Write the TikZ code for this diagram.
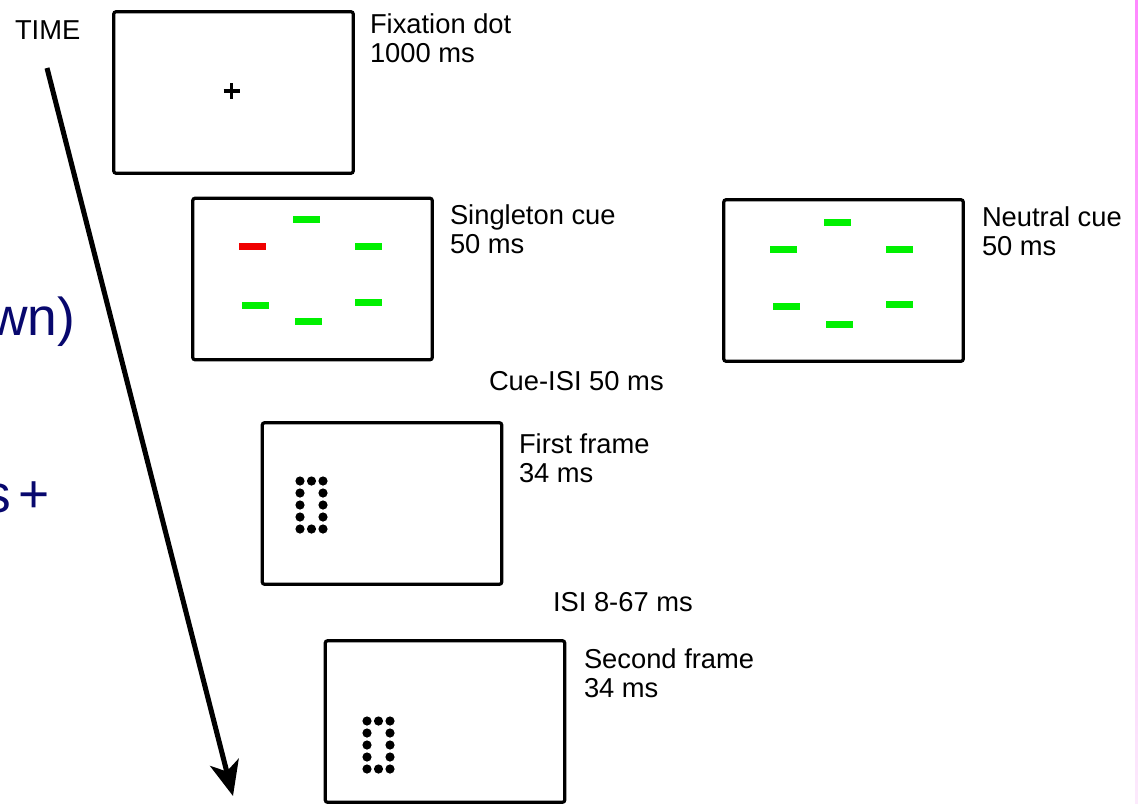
\documentclass[tikz,border=0pt]{standalone}
\usepackage{fontspec}
\setmainfont{Liberation Sans}
\usetikzlibrary{arrows.meta}

\definecolor{cuegreen}{RGB}{0,240,0}
\definecolor{cuered}{RGB}{240,0,0}
\definecolor{slidenavy}{RGB}{8,8,110}
\definecolor{pinktop}{RGB}{255,136,255}
\definecolor{pinkbot}{RGB}{252,234,252}

\begin{document}
\begin{tikzpicture}[x=0.75pt,y=-0.75pt,
  screen/.style={draw=black, line width=2.4pt, rounded corners=1.5pt,
    minimum width=179.5pt, minimum height=121pt, inner sep=0pt, outer sep=0pt},
  lbl/.style={anchor=base west, inner sep=0pt, outer sep=0pt,
    font=\fontsize{20.5}{22}\selectfont},
  bigtext/.style={anchor=base east, inner sep=0pt, outer sep=0pt,
    text=slidenavy, font=\fontsize{40}{46}\selectfont},
  dot/.style={fill=black},
  timearrow/.style={line width=3.8pt,
    -{Stealth[length=26pt,width=22pt,inset=7pt]}}
]
\useasboundingbox (0,0) rectangle (1138,803);

% pink strip on the right edge
\shade[top color=pinktop, bottom color=pinkbot] (1135,0) rectangle (1138,803);

% partly visible slide text on the left
\node[bigtext] (wn) at (75,335) {wn)};
\node[bigtext] (splus) at (50,512) {s\hspace{0.15em}+};

% time axis
\node[lbl] (time) at (15,39) {TIME};
\coordinate (tstart) at (47,68);
\coordinate (tend) at (233,796);
\draw[timearrow] (tstart) -- (tend);

% screens
\node[screen] (fix) at (233.5,92.5) {};
\node[screen] (single) at (312.5,279) {};
\node[screen] (neutral) at (843.5,280.5) {};
\node[screen] (first) at (382,503.5) {};
\node[screen] (second) at (445,721.5) {};

% fixation cross
\draw[line width=2.4pt] (223.5,91) -- (239.5,91) (231.5,83) -- (231.5,99);

% singleton cue display
\foreach \x/\y in {306/219, 368/246, 255/305, 368/302, 308/321}
  \fill[cuegreen] (\x-13.5,\y-3.5) rectangle (\x+13.5,\y+3.5);
\fill[cuered] (252-13.5,246-3.5) rectangle (252+13.5,246+3.5);

% neutral cue display
\foreach \x/\y in {837/222, 783/249, 899/249, 786/306, 899/304, 839/324}
  \fill[cuegreen] (\x-13.5,\y-3.5) rectangle (\x+13.5,\y+3.5);

% dot outlines in the two frames
\foreach \ox/\oy in {300/481, 367/721} {
  \foreach \i in {0,1,2} {
    \fill[dot] (\ox+11.5*\i,\oy) circle (4.6);
    \fill[dot] (\ox+11.5*\i,\oy+48) circle (4.6);
  }
  \foreach \j in {1,2,3} {
    \fill[dot] (\ox,\oy+12*\j) circle (4.6);
    \fill[dot] (\ox+23,\oy+12*\j) circle (4.6);
  }
}

% labels
\node[lbl] (fixA) at (370,33) {Fixation dot};
\node[lbl] (fixB) at (370,62) {1000 ms};
\node[lbl] (singA) at (450,224) {Singleton cue};
\node[lbl] (singB) at (450,253) {50 ms};
\node[lbl] (neutA) at (982,226) {Neutral cue};
\node[lbl] (neutB) at (982,255) {50 ms};
\node[lbl] (cueisi) at (489,390) {Cue-ISI 50 ms};
\node[lbl] (firstA) at (519,453) {First frame};
\node[lbl] (firstB) at (519,482) {34 ms};
\node[lbl] (isi) at (553,611) {ISI 8-67 ms};
\node[lbl] (secA) at (584,668) {Second frame};
\node[lbl] (secB) at (584,697) {34 ms};
\end{tikzpicture}
\end{document}
